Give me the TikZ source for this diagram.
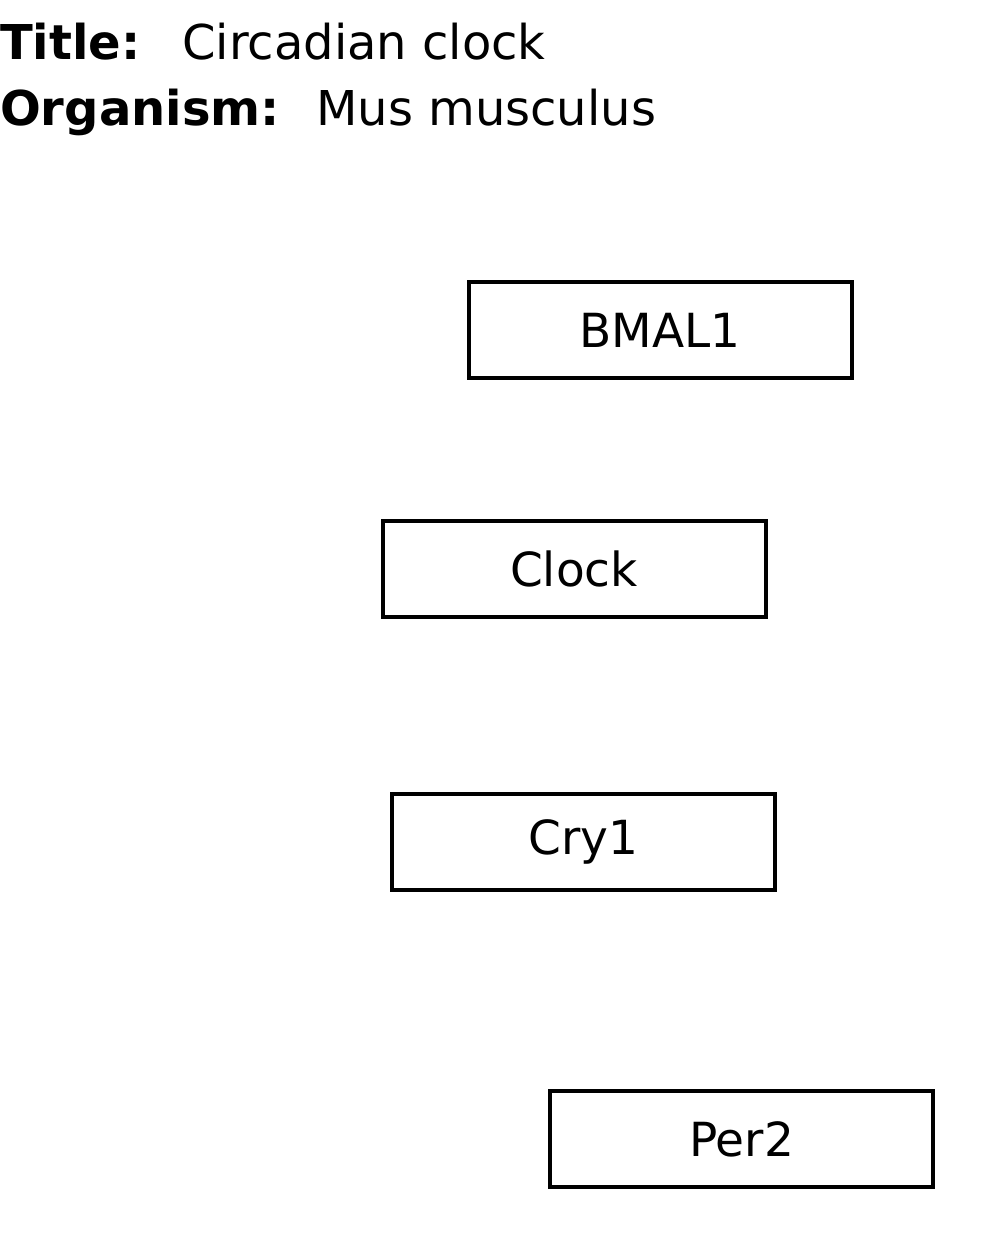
\documentclass[tikz,border=0pt]{standalone}
\usepackage{fontspec}
\setmainfont{DejaVu Sans}
\begin{document}
\begin{tikzpicture}[x=1pt,y=1pt,
  lbl/.style={inner sep=0pt,anchor=base west,font=\fontsize{48}{58}\selectfont},
  gene/.style={draw=black,line width=4pt,minimum width=383pt,minimum height=96pt,inner sep=0pt,font=\fontsize{47}{56}\selectfont}]
\useasboundingbox (0,0) rectangle (1000,-1254);
\fill[white] (0,0) rectangle (1000,-1254);
\node[lbl] (t1) at (0,-59) {\textbf{Title:}};
\node[lbl] (t2) at (182,-59) {Circadian clock};
\node[lbl] (o1) at (0,-125) {\textbf{Organism:}};
\node[lbl] (o2) at (316,-125) {Mus musculus};
\node[gene] (bmal) at (660,-330) {BMAL1};
\node[gene] (clock) at (574,-569) {Clock};
\node[gene] (cry) at (583.5,-842) {Cry1};
\node[gene] (per) at (741.5,-1139) {Per2};
\end{tikzpicture}
\end{document}
